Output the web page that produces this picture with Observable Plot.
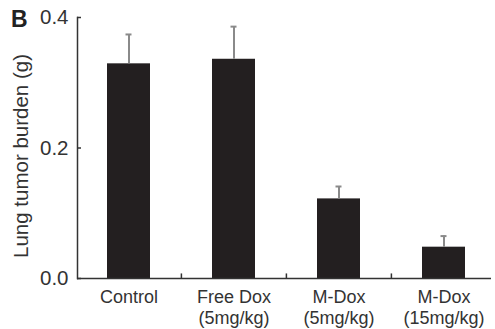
<!DOCTYPE html>
<html>
<head>
<meta charset="utf-8">
<script src="https://cdn.jsdelivr.net/npm/d3@7"></script>
<script src="https://cdn.jsdelivr.net/npm/@observablehq/plot@0.6"></script>
<style>
  html, body { margin: 0; padding: 0; background: #fff; }
  #chart { position: relative; width: 495px; height: 329px; }
  #panel { position: absolute; left: 11px; top: 6px; font: bold 23px "Liberation Sans", Arial, sans-serif; color: #222; z-index: 2; }
</style>
</head>
<body>
<div id="chart"><div id="panel">B</div></div>
<script>
const categories = ["Control", "Free Dox\n(5mg/kg)", "M-Dox\n(5mg/kg)", "M-Dox\n(15mg/kg)"];
const means = [0.329, 0.336, 0.122, 0.048];
const errors = [0.045, 0.050, 0.019, 0.017];
const yTicks = [0.0, 0.2, 0.4];

const data = categories.map((c, i) => ({cat: c, mean: means[i], upper: means[i] + errors[i]}));

const plot = Plot.plot({
  width: 495,
  height: 329,
  marginLeft: 77,
  marginRight: 4,
  marginTop: 17,
  marginBottom: 51,
  style: {fontFamily: "'Liberation Sans', Arial, sans-serif", fontSize: "18px", color: "#333", background: "transparent"},
  x: {domain: categories, range: [76, 497], paddingInner: 0.59, paddingOuter: 0.295, label: null},
  y: {domain: [0, 0.4], label: null},
  marks: [
    Plot.barY(data, {x: "cat", y: "mean", fill: "#231f20"}),
    Plot.ruleX(data, {x: "cat", y1: "mean", y2: "upper", stroke: "#8a8a8a", strokeWidth: 2}),
    Plot.tickY(data, {x: "cat", y: "upper", stroke: "#8a8a8a", strokeWidth: 2, insetLeft: 18.5, insetRight: 18.5}),
    Plot.ruleY([0], {stroke: "#333", strokeWidth: 1.5}),
    Plot.frame({anchor: "left", stroke: "#333", strokeWidth: 1.5}),
    Plot.ruleX(categories.slice(1), {x: d => d, dx: -52.6, y1: 0, y2: 0.007, stroke: "#333", strokeWidth: 1.5}),
    Plot.axisY({ticks: yTicks, tickFormat: ".1f", tickSize: -4, tickPadding: 13, fontSize: 20.5, stroke: "#333", strokeWidth: 1.5, label: null}),
    Plot.axisX({tickSize: 0, tickPadding: 9, lineHeight: 1.2, fontSize: 18, label: null}),
    Plot.text(["Lung tumor burden (g)"], {frameAnchor: "left", textAnchor: "middle", dx: -56, dy: 8, rotate: -90, fontSize: 20.5, fill: "#333", text: d => d})
  ]
});
document.getElementById("chart").appendChild(plot);
plot.style.position = "absolute";
plot.style.left = "0";
plot.style.top = "0";
</script>
</body>
</html>
